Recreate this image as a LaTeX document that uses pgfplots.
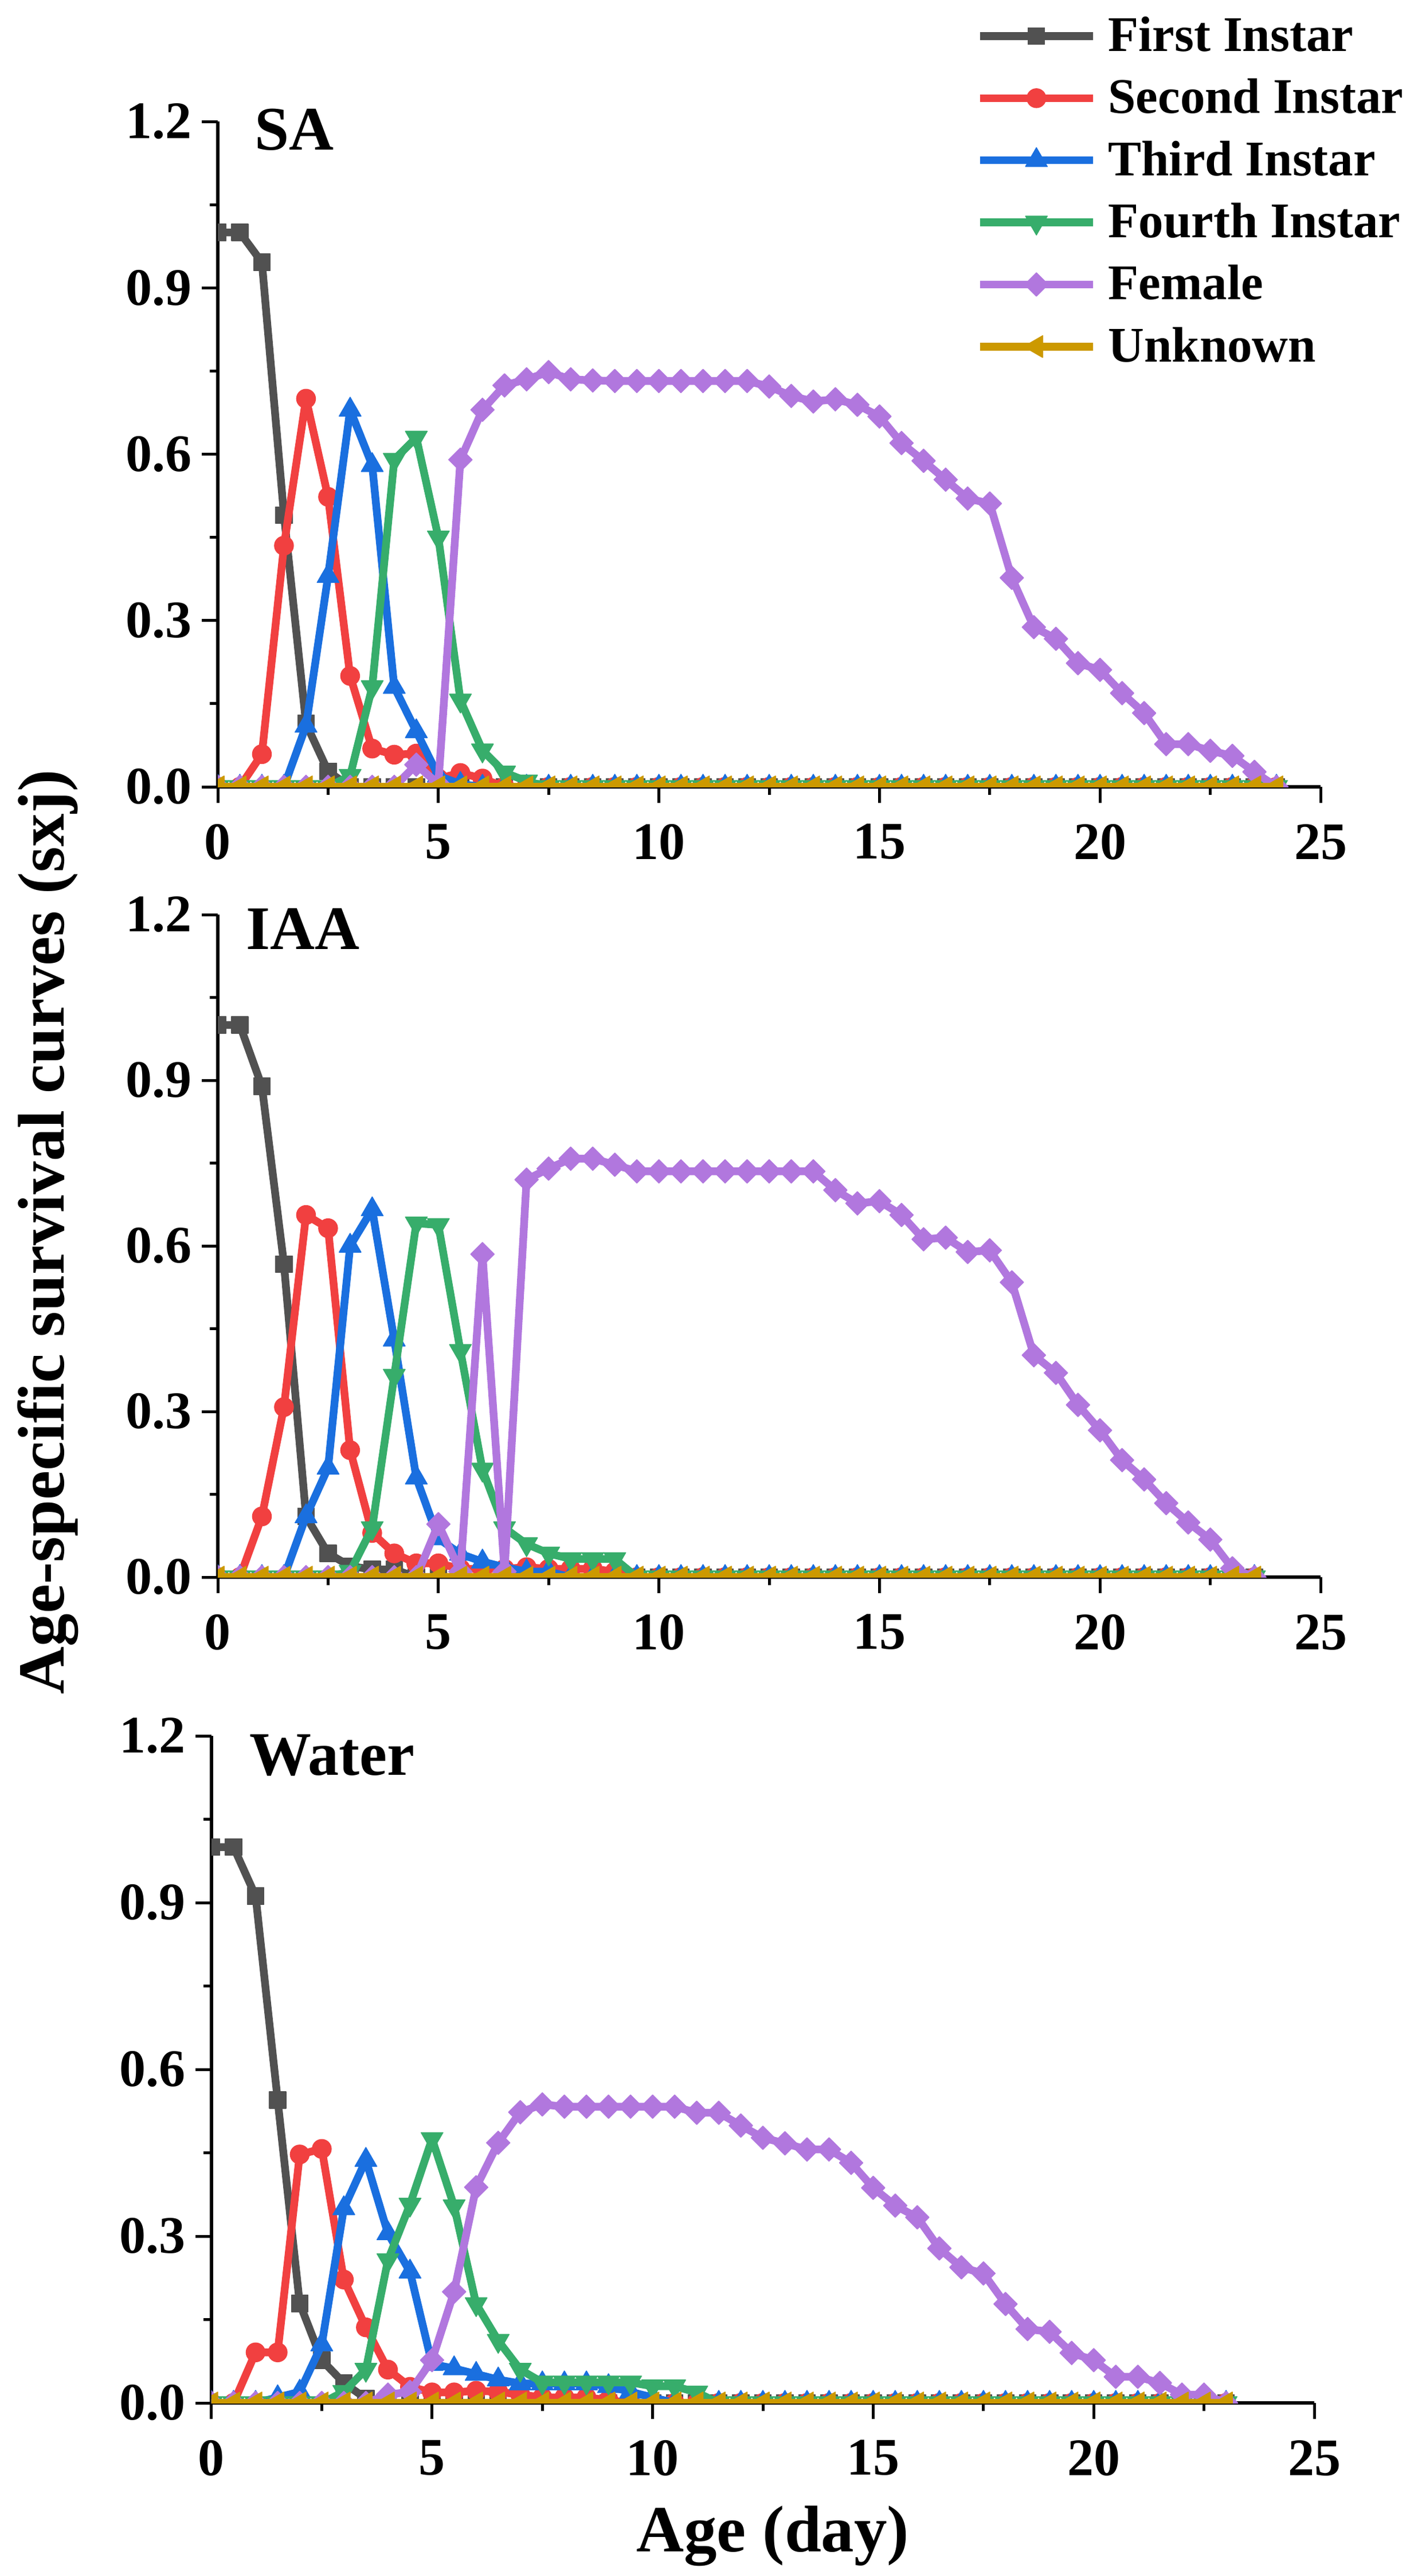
\documentclass[border=0pt]{standalone}
\usepackage{fontspec}
\setmainfont{Liberation Serif}
\usepackage{pgfplots}
\usepackage{pgfplotstable}
\pgfplotsset{compat=1.18}

\definecolor{cFirst}{RGB}{81,81,81}
\definecolor{cSecond}{RGB}{241,64,64}
\definecolor{cThird}{RGB}{26,111,223}
\definecolor{cFourth}{RGB}{55,173,107}
\definecolor{cFemale}{RGB}{177,119,222}
\definecolor{cUnknown}{RGB}{204,153,0}

% x: age (day); a: first instar; b: second; c: third; d: fourth; f: female; u: unknown
\pgfplotstableread{
x a b c d f u
0 1.000 0 0 0 0 0
0.5 1.000 0 0 0 0 0
1 0.946 0.059 0 0 0 0
1.5 0.490 0.435 0 0 0 0
2 0.114 0.700 0.110 0 0 0
2.5 0.028 0.523 0.380 0 0 0
3 0 0.200 0.680 0.020 0 0
3.5 0 0.069 0.580 0.180 0 0
4 0 0.058 0.180 0.590 0 0
4.5 0 0.060 0.100 0.630 0.040 0
5 0 0.015 0.020 0.450 0.005 0
5.5 0 0.025 0.005 0.156 0.590 0
6 0 0.015 0 0.066 0.680 0
6.5 0 0 0 0.026 0.724 0
7 0 0 0 0.010 0.735 0
7.5 0 0 0 0 0.748 0
8 0 0 0 0 0.735 0
8.5 0 0 0 0 0.733 0
9 0 0 0 0 0.732 0
9.5 0 0 0 0 0.732 0
10 0 0 0 0 0.732 0
10.5 0 0 0 0 0.732 0
11 0 0 0 0 0.732 0
11.5 0 0 0 0 0.732 0
12 0 0 0 0 0.732 0
12.5 0 0 0 0 0.722 0
13 0 0 0 0 0.705 0
13.5 0 0 0 0 0.695 0
14 0 0 0 0 0.699 0
14.5 0 0 0 0 0.689 0
15 0 0 0 0 0.668 0
15.5 0 0 0 0 0.620 0
16 0 0 0 0 0.588 0
16.5 0 0 0 0 0.554 0
17 0 0 0 0 0.520 0
17.5 0 0 0 0 0.511 0
18 0 0 0 0 0.377 0
18.5 0 0 0 0 0.288 0
19 0 0 0 0 0.267 0
19.5 0 0 0 0 0.223 0
20 0 0 0 0 0.211 0
20.5 0 0 0 0 0.169 0
21 0 0 0 0 0.133 0
21.5 0 0 0 0 0.077 0
22 0 0 0 0 0.077 0
22.5 0 0 0 0 0.065 0
23 0 0 0 0 0.056 0
23.5 0 0 0 0 0.027 0
24 0 0 0 0 0 0
}\tabSA

\pgfplotstableread{
x a b c d f u
0 1.000 0 0 0 0 0
0.5 1.000 0 0 0 0 0
1 0.889 0.110 0 0 0 0
1.5 0.567 0.308 0 0 0 0
2 0.110 0.656 0.110 0 0 0
2.5 0.043 0.632 0.198 0 0 0
3 0.020 0.230 0.600 0.010 0 0
3.5 0.014 0.080 0.666 0.089 0 0
4 0.014 0.043 0.430 0.365 0 0
4.5 0 0.025 0.180 0.641 0 0
5 0 0.025 0.070 0.638 0.096 0
5.5 0 0.015 0.042 0.410 0.010 0
6 0 0.015 0.028 0.195 0.585 0
6.5 0 0.015 0.018 0.089 0.010 0
7 0 0.018 0.010 0.060 0.720 0
7.5 0 0.015 0.010 0.043 0.740 0
8 0 0.015 0 0.033 0.758 0
8.5 0 0.015 0 0.033 0.758 0
9 0 0.010 0 0.033 0.747 0
9.5 0 0 0 0 0.735 0
10 0 0 0 0 0.735 0
10.5 0 0 0 0 0.735 0
11 0 0 0 0 0.735 0
11.5 0 0 0 0 0.735 0
12 0 0 0 0 0.735 0
12.5 0 0 0 0 0.735 0
13 0 0 0 0 0.735 0
13.5 0 0 0 0 0.735 0
14 0 0 0 0 0.701 0
14.5 0 0 0 0 0.677 0
15 0 0 0 0 0.681 0
15.5 0 0 0 0 0.656 0
16 0 0 0 0 0.612 0
16.5 0 0 0 0 0.615 0
17 0 0 0 0 0.589 0
17.5 0 0 0 0 0.592 0
18 0 0 0 0 0.534 0
18.5 0 0 0 0 0.402 0
19 0 0 0 0 0.370 0
19.5 0 0 0 0 0.312 0
20 0 0 0 0 0.266 0
20.5 0 0 0 0 0.212 0
21 0 0 0 0 0.177 0
21.5 0 0 0 0 0.134 0
22 0 0 0 0 0.099 0
22.5 0 0 0 0 0.068 0
23 0 0 0 0 0.016 0
23.5 0 0 0 0 0 0
}\tabIAA

\pgfplotstableread{
x a b c d f u
0 1.000 0 0 0 0 0
0.5 1.000 0 0 0 0 0
1 0.912 0.091 0 0 0 0
1.5 0.545 0.091 0.010 0 0 0
2 0.179 0.447 0.020 0 0 0
2.5 0.077 0.457 0.105 0 0 0
3 0.036 0.222 0.350 0.020 0 0
3.5 0.008 0.136 0.437 0.060 0 0
4 0 0.060 0.305 0.257 0.015 0
4.5 0 0.029 0.236 0.357 0.020 0
5 0 0.019 0.070 0.475 0.077 0
5.5 0 0.019 0.062 0.354 0.200 0
6 0 0.022 0.052 0.178 0.388 0
6.5 0 0.020 0.042 0.112 0.468 0
7 0 0.015 0.035 0.060 0.523 0
7.5 0 0.010 0.035 0.037 0.537 0
8 0 0.010 0.035 0.037 0.533 0
8.5 0 0.010 0.035 0.037 0.533 0
9 0 0.005 0.030 0.037 0.533 0
9.5 0 0 0.020 0.037 0.533 0
10 0 0 0.010 0.030 0.533 0
10.5 0 0 0 0.030 0.533 0
11 0 0 0 0.019 0.522 0
11.5 0 0 0 0 0.522 0
12 0 0 0 0 0.499 0
12.5 0 0 0 0 0.477 0
13 0 0 0 0 0.467 0
13.5 0 0 0 0 0.456 0
14 0 0 0 0 0.456 0
14.5 0 0 0 0 0.432 0
15 0 0 0 0 0.387 0
15.5 0 0 0 0 0.355 0
16 0 0 0 0 0.334 0
16.5 0 0 0 0 0.278 0
17 0 0 0 0 0.244 0
17.5 0 0 0 0 0.233 0
18 0 0 0 0 0.178 0
18.5 0 0 0 0 0.133 0
19 0 0 0 0 0.128 0
19.5 0 0 0 0 0.090 0
20 0 0 0 0 0.077 0
20.5 0 0 0 0 0.047 0
21 0 0 0 0 0.047 0
21.5 0 0 0 0 0.036 0
22 0 0 0 0 0.015 0
22.5 0 0 0 0 0.015 0
23 0 0 0 0 0 0
}\tabWater

\tikzset{panellabel/.style={anchor=base west, font=\fontsize{21.6pt}{24pt}\selectfont\bfseries, inner sep=0pt}}

\pgfplotsset{
  panel/.style={
    scale only axis, width=384.8pt,
    xmin=0, xmax=25, ymin=0, ymax=1.2,
    axis x line=bottom, axis y line=left,
    axis line style={-, line width=1.1pt, black},
    xtick={0,5,10,15,20,25}, ytick={0,0.3,0.6,0.9,1.2},
    minor x tick num=1, minor y tick num=1,
    tick align=outside, major tick length=5.5pt, minor tick length=2.8pt,
    every tick/.style={black, line width=1pt},
    tick label style={font=\fontsize{18.4pt}{22pt}\selectfont\bfseries},
    xticklabel style={yshift=-4pt},
    /pgf/number format/assume math mode=true,
    yticklabel style={/pgf/number format/fixed, /pgf/number format/fixed zerofill, /pgf/number format/precision=1},
    clip mode=individual,
    clip marker paths=true,
    anchor=north west,
  },
  sFirst/.style={cFirst, line width=2.7pt, line join=round, mark=square*, mark size=2.9pt, mark options={solid, line width=0.3pt, fill=cFirst}},
  sSecond/.style={cSecond, line width=2.7pt, line join=round, mark=*, mark size=3.3pt, mark options={solid, line width=0.3pt, fill=cSecond}},
  sThird/.style={cThird, line width=2.7pt, line join=round, mark=triangle*, mark size=4.4pt, mark options={solid, line width=0.3pt, fill=cThird}},
  sFourth/.style={cFourth, line width=2.7pt, line join=round, mark=triangle*, mark size=4.4pt, mark options={solid, line width=0.3pt, fill=cFourth, rotate=180}},
  sFemale/.style={cFemale, line width=2.7pt, line join=round, mark=square*, mark size=2.9pt, mark options={solid, line width=0.3pt, fill=cFemale, rotate=45}},
  sUnknown/.style={cUnknown, line width=2.7pt, line join=round, mark=triangle*, mark size=4.4pt, mark options={solid, line width=0.3pt, fill=cUnknown, rotate=90}},
}

\begin{document}
\begin{tikzpicture}
\useasboundingbox (0,0) rectangle (493.2pt,-899pt);

% ---- SA ----
\begin{axis}[panel, at={(76pt,-42.4pt)}, height=232.2pt,
  legend cell align=left,
  legend image code/.code={\draw[mark repeat=2, mark phase=2, #1] plot coordinates {(0pt,0pt) (19.7pt,0pt) (39.4pt,0pt)};},
  legend style={at={(0.6876,1.1576)}, anchor=north west, draw=none, fill=none,
    inner sep=0pt, outer sep=0pt, row sep=8.1pt, column sep=4pt,
    nodes={inner sep=0pt},
    font=\fontsize{17.4pt}{20pt}\selectfont\bfseries},
]
\addplot[sFirst] table[x=x,y=a]{\tabSA};
\addplot[sSecond] table[x=x,y=b]{\tabSA};
\addplot[sThird] table[x=x,y=c]{\tabSA};
\addplot[sFourth] table[x=x,y=d]{\tabSA};
\addplot[sFemale] table[x=x,y=f]{\tabSA};
\addplot[sUnknown] table[x=x,y=u]{\tabSA};
\legend{First Instar, Second Instar, Third Instar, Fourth Instar, Female, Unknown}
\node[panellabel] at (rel axis cs:0.033,0.957) {SA};
\end{axis}

% ---- IAA ----
\begin{axis}[panel, at={(76pt,-319.2pt)}, height=231.2pt,
  ylabel={Age-specific survival curves (sxj)},
  ylabel style={at={(axis description cs:-0.1538,0.521)}, anchor=center, font=\fontsize{23pt}{26pt}\selectfont\bfseries},
]
\addplot[sFirst] table[x=x,y=a]{\tabIAA};
\addplot[sSecond] table[x=x,y=b]{\tabIAA};
\addplot[sThird] table[x=x,y=c]{\tabIAA};
\addplot[sFourth] table[x=x,y=d]{\tabIAA};
\addplot[sFemale] table[x=x,y=f]{\tabIAA};
\addplot[sUnknown] table[x=x,y=u]{\tabIAA};
\node[panellabel] at (rel axis cs:0.025,0.948) {IAA};
\end{axis}

% ---- Water ----
\begin{axis}[panel, at={(73.8pt,-605.8pt)}, height=232.8pt,
  xlabel={Age (day)},
  xlabel style={at={(axis description cs:0.509,0)}, anchor=base, yshift=-51.8pt, font=\fontsize{23pt}{26pt}\selectfont\bfseries},
]
\addplot[sFirst] table[x=x,y=a]{\tabWater};
\addplot[sSecond] table[x=x,y=b]{\tabWater};
\addplot[sThird] table[x=x,y=c]{\tabWater};
\addplot[sFourth] table[x=x,y=d]{\tabWater};
\addplot[sFemale] table[x=x,y=f]{\tabWater};
\addplot[sUnknown] table[x=x,y=u]{\tabWater};
\node[panellabel] at (rel axis cs:0.034,0.9416) {Water};
\end{axis}
\end{tikzpicture}
\end{document}
